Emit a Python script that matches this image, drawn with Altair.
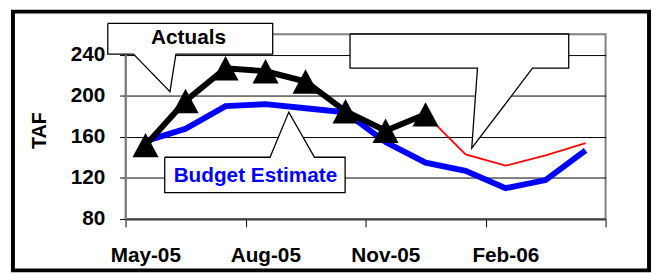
import altair as alt
import pandas as pd

# ---------------- data ----------------
months = ["May-05", "Jun-05", "Jul-05", "Aug-05", "Sep-05", "Oct-05",
          "Nov-05", "Dec-05", "Jan-06", "Feb-06", "Mar-06", "Apr-06"]
budget = [156, 168, 190, 192, 188, 184, 155, 135, 127, 110, 118, 147]
actual_months = months[:8]
actuals = [152, 195, 227, 224, 214, 185, 166, 182]
forecast_months = months[7:]
forecast = [182, 143, 132, 142, 154]

y_ticks = [80, 120, 160, 200, 240]
x_tick_idx = [0, 3, 6, 9, 12]

# callouts (data coordinates: month index, TAF)
callouts = [
    {"id": "actuals", "box": (-0.444, 3.679, 240.7, 270.6), "base": (0.198, 1.259), "tip": (1.111, 204.2)},
    {"id": "forecast", "box": (5.612, 11.079, 227.0, 260.3), "base": (8.798, 10.173), "tip": (8.654, 149.0)},
    {"id": "budget", "box": (0.980, 5.489, 105.7, 140.2), "base": (3.612, 4.723), "tip": (4.081, 184.2)},
]
callout_texts = [
    {"label": "Actuals", "x": 1.575, "v": 250.1, "color": "#000000"},
    {"label": "Budget Estimate", "x": 3.247, "v": 115.9, "color": "#0000FF"},
]

FONT = "Liberation Sans"

# ---------------- tables ----------------
def mi(m):
    return months.index(m) + 0.5

df_budget = pd.DataFrame({"x": [mi(m) for m in months], "v": budget})
df_act = pd.DataFrame({"x": [mi(m) for m in actual_months], "v": actuals})
df_fc = pd.DataFrame({"x": [mi(m) for m in forecast_months], "v": forecast})

rows = []
for c in callouts:
    x0, x1, y0, y1 = c["box"]
    b0, b1 = c["base"]
    tx, ty = c["tip"]
    if ty < y0:
        pts = [(x0, y1), (x1, y1), (x1, y0), (b1, y0), (tx, ty), (b0, y0), (x0, y0), (x0, y1)]
    else:
        pts = [(x0, y1), (b0, y1), (tx, ty), (b1, y1), (x1, y1), (x1, y0), (x0, y0), (x0, y1)]
    for k, (px, py) in enumerate(pts):
        rows.append({"id": c["id"], "k": k, "x": px, "v": py})
df_call = pd.DataFrame(rows)
df_text = pd.DataFrame(callout_texts)

xs = alt.Scale(domain=[0, 12], nice=False, zero=False)
ys = alt.Scale(domain=[80, 260], nice=False, zero=False)

label_expr = " : ".join(
    [f"datum.value == {i} ? '{months[i]}'" for i in x_tick_idx if i < 12]
) + " : ''"

x_axis = alt.Axis(values=x_tick_idx, labelExpr=label_expr, labelOffset=20, labelFlush=False,
                  grid=False, domainColor="#404040", domainWidth=2, tickColor="#000000",
                  tickSize=8, tickWidth=1, labelPadding=18, labelFontSize=21, labelFont=FONT,
                  labelFontWeight="bold", labelColor="#000000", title=None, labelAngle=0)
y_axis = alt.Axis(values=y_ticks, grid=True, gridColor="#000000", gridWidth=1,
                  domainColor="#808080", domainWidth=2, tickColor="#000000", tickSize=6,
                  labelPadding=15, labelFontSize=21, labelFont=FONT, labelFontWeight="bold",
                  labelColor="#000000", labelFlush=False, title="TAF", titleFont=FONT,
                  titleFontSize=20, titleFontWeight="bold", titleColor="#000000",
                  titleX=-87, titleY=97, titleAngle=270, titleAlign="center",
                  titleBaseline="middle")

X = alt.X("x:Q", scale=xs, axis=x_axis)
Y = alt.Y("v:Q", scale=ys, axis=y_axis)

frame = alt.Chart(pd.DataFrame({"a": [0]})).mark_rect(
    fillOpacity=0, stroke="#000000", strokeWidth=4
).encode(x=alt.value(-114), x2=alt.value(530), y=alt.value(-23), y2=alt.value(239))

blue = alt.Chart(df_budget).mark_line(color="#0000FF", strokeWidth=6).encode(x=X, y=Y)
red = alt.Chart(df_fc).mark_line(color="#FF0000", strokeWidth=1.7).encode(x=X, y=Y)
black = alt.Chart(df_act).mark_line(color="#000000", strokeWidth=6).encode(x=X, y=Y)
tri = alt.Chart(df_act).mark_point(
    shape="M0,-0.935L1,0.935L-1,0.935Z", filled=True, fill="#000000", opacity=1, size=700, strokeWidth=0
).encode(x=X, y=Y)

call = alt.Chart(df_call).mark_line(fill="#FFFFFF", stroke="#000000", strokeWidth=1.3).encode(
    x=X, y=Y, detail="id:N", order="k:Q"
)
texts = alt.Chart(df_text).mark_text(
    font=FONT, fontSize=21, fontWeight="bold", baseline="alphabetic", align="center"
).encode(x=X, y=Y, text="label:N", color=alt.Color("color:N", scale=None))

chart = alt.layer(frame, blue, red, black, tri, call, texts).properties(
    width=486, height=187,
    padding={"left": 119, "top": 25, "right": 47, "bottom": 54},
    autosize=alt.AutoSizeParams(type="none"),
    background="#FFFFFF",
).configure_view(stroke="#808080", strokeWidth=2)

chart.save("out.html", embed_options={"renderer": "svg", "actions": False})
